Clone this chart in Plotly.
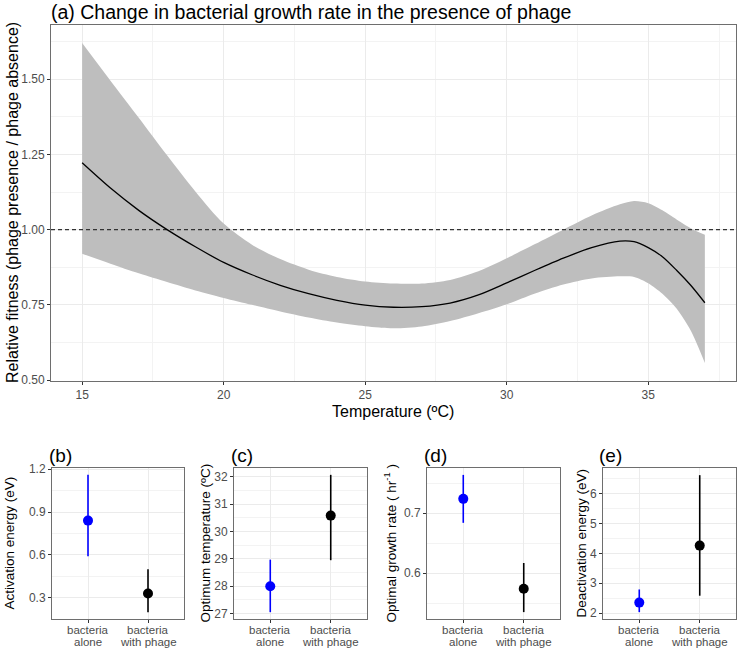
import plotly.graph_objects as go

# ---- data: panel (a) ----
temperature = [15, 16, 17, 18, 19, 20, 21, 22, 23, 24, 25, 26, 27, 28, 29, 30, 31, 32, 33, 34, 34.5, 35, 35.5, 36, 36.5, 37]
fit = [1.222, 1.138, 1.064, 1.000, 0.943, 0.891, 0.850, 0.815, 0.787, 0.765, 0.749, 0.742, 0.744, 0.756, 0.783, 0.823, 0.865, 0.905, 0.940, 0.962, 0.960, 0.940, 0.910, 0.865, 0.815, 0.757]
upper = [1.620, 1.495, 1.372, 1.247, 1.127, 1.020, 0.950, 0.902, 0.867, 0.843, 0.828, 0.821, 0.821, 0.833, 0.862, 0.905, 0.952, 1.000, 1.047, 1.084, 1.095, 1.088, 1.064, 1.034, 1.005, 0.983]
lower = [0.920, 0.887, 0.855, 0.826, 0.798, 0.773, 0.750, 0.728, 0.708, 0.691, 0.679, 0.672, 0.678, 0.696, 0.722, 0.752, 0.788, 0.818, 0.838, 0.845, 0.843, 0.822, 0.787, 0.738, 0.665, 0.557]
reference_line = 1.0

# ---- data: panels (b)-(e) ----
groups = [["bacteria", "alone"], ["bacteria", "with phage"]]
group_colors = ["#0000FF", "#000000"]
activation_est = [0.84, 0.33]
activation_lo = [0.59, 0.20]
activation_hi = [1.16, 0.50]
topt_est = [28.0, 30.58]
topt_lo = [27.05, 28.95]
topt_hi = [28.97, 32.07]
rmax_est = [0.724, 0.574]
rmax_lo = [0.684, 0.535]
rmax_hi = [0.764, 0.617]
deact_est = [2.35, 4.26]
deact_lo = [2.03, 2.58]
deact_hi = [2.79, 6.62]

W, H = 737, 649
def px_x(p):
    return p / W
def px_y(p):
    return 1 - p / H

FONT = "Liberation Sans, Arial, sans-serif"
TICKC = "#4D4D4D"
BORDER = "#6E6E6E"
GRID = "#EBEBEB"
MINOR = "#F3F3F3"

fig = go.Figure()

# ribbon
fig.add_trace(go.Scatter(x=temperature, y=lower, mode="lines", line=dict(width=0, shape="spline", smoothing=0.8),
                         showlegend=False, hoverinfo="skip", xaxis="x", yaxis="y"))
fig.add_trace(go.Scatter(x=temperature, y=upper, mode="lines", line=dict(width=0, shape="spline", smoothing=0.8),
                         fill="tonexty", fillcolor="#BEBEBE", showlegend=False, hoverinfo="skip", xaxis="x", yaxis="y"))
# dashed reference line
fig.add_trace(go.Scatter(x=[13.9, 38.1], y=[reference_line, reference_line], mode="lines",
                         line=dict(color="#333333", width=1.2, dash="4px,3px"), showlegend=False, xaxis="x", yaxis="y"))
# fitted curve
fig.add_trace(go.Scatter(x=temperature, y=fit, mode="lines", line=dict(color="black", width=1.3, shape="spline", smoothing=0.8),
                         showlegend=False, xaxis="x", yaxis="y"))

panels = [
    ("x2", "y2", activation_est, activation_lo, activation_hi),
    ("x3", "y3", topt_est, topt_lo, topt_hi),
    ("x4", "y4", rmax_est, rmax_lo, rmax_hi),
    ("x5", "y5", deact_est, deact_lo, deact_hi),
]
for xa, ya, est, lo, hi in panels:
    for i in range(2):
        fig.add_trace(go.Scatter(
            x=[i + 1], y=[est[i]], mode="markers",
            marker=dict(color=group_colors[i], size=10),
            error_y=dict(type="data", symmetric=False, array=[hi[i] - est[i]], arrayminus=[est[i] - lo[i]],
                         width=0, thickness=1.6, color=group_colors[i]),
            showlegend=False, xaxis=xa, yaxis=ya))

common = dict(showline=True, mirror=True, linecolor=BORDER, linewidth=1, ticks="outside", ticklen=3,
              tickcolor="#333333", tickwidth=1, showgrid=True, gridcolor=GRID, gridwidth=1, zeroline=False,
              automargin=False, tickfont=dict(family=FONT, size=12, color=TICKC))

layout = dict(width=W, height=H, margin=dict(l=0, r=0, t=0, b=0), plot_bgcolor="white", paper_bgcolor="white",
              font=dict(family=FONT))

layout["xaxis"] = dict(common, domain=[px_x(51), px_x(736)], range=[13.9, 38.1], tickvals=[15, 20, 25, 30, 35],
                       minor=dict(showgrid=True, gridcolor=MINOR, gridwidth=0.7, tickvals=[17.5, 22.5, 27.5, 32.5, 37.5]),
                       anchor="y")
layout["yaxis"] = dict(common, domain=[px_y(381), px_y(25)], range=[0.497, 1.68],
                       tickvals=[0.5, 0.75, 1.0, 1.25, 1.5], ticktext=["0.50", "0.75", "1.00", "1.25", "1.50"],
                       minor=dict(showgrid=True, gridcolor=MINOR, gridwidth=0.7, tickvals=[0.625, 0.875, 1.125, 1.375, 1.625]),
                       anchor="x")

bx = [(52, 184), (234, 367), (427, 560), (603, 736)]
yspecs = [
    dict(range=[0.152, 1.208], tickvals=[0.3, 0.6, 0.9, 1.2], minorv=[0.15, 0.45, 0.75, 1.05]),
    dict(range=[26.8, 32.32], tickvals=[27, 28, 29, 30, 31, 32], minorv=[27.5, 28.5, 29.5, 30.5, 31.5]),
    dict(range=[0.5235, 0.7755], tickvals=[0.6, 0.7], minorv=[0.55, 0.65, 0.75]),
    dict(range=[1.80, 6.86], tickvals=[2, 3, 4, 5, 6], minorv=[2.5, 3.5, 4.5, 5.5, 6.5]),
]
for k in range(4):
    n = k + 2
    layout[f"xaxis{n}"] = dict(common, domain=[px_x(bx[k][0]), px_x(bx[k][1])], range=[0.4, 2.6],
                               tickvals=[1, 2], showticklabels=False, anchor=f"y{n}")
    layout[f"yaxis{n}"] = dict(common, domain=[px_y(619), px_y(468)], range=yspecs[k]["range"],
                               tickvals=yspecs[k]["tickvals"],
                               minor=dict(showgrid=True, gridcolor=MINOR, gridwidth=0.7, tickvals=yspecs[k]["minorv"]),
                               anchor=f"x{n}")

fig.update_layout(**layout)

ann = []
def add_text(text, x, y, size=15, angle=0, xanchor="center", yanchor="middle", color="black", xref="paper"):
    ann.append(dict(text=text, x=(x if xref != "paper" else px_x(x)), y=px_y(y), xref=xref, yref="paper",
                    showarrow=False, textangle=angle, xanchor=xanchor, yanchor=yanchor,
                    font=dict(family=FONT, size=size, color=color)))

add_text("(a) Change in bacterial growth rate in the presence of phage", 49, 12, size=19.5, xanchor="left")
add_text("Relative fitness (phage presence / phage absence)", 12, 203, size=16, angle=-90)
add_text("Temperature (ºC)", 393.5, 412, size=16)
add_text("(b)", 47, 455, size=19, xanchor="left")
add_text("(c)", 229, 455, size=19, xanchor="left")
add_text("(d)", 422, 455, size=19, xanchor="left")
add_text("(e)", 597, 455, size=19, xanchor="left")
add_text("Activation energy (eV)", 9, 543.5, size=13.5, angle=-90)
add_text("Optimum temperature (ºC)", 205, 543.5, size=13.5, angle=-90)
add_text("Optimal growth rate ( hr<sup>-1</sup> )", 390, 543.5, size=13.5, angle=-90)
add_text("Deactivation energy (eV)", 581, 543.5, size=13.5, angle=-90)
for k in range(4):
    for i in range(2):
        add_text(groups[i][0], i + 1, 630, size=11.5, color=TICKC, xref=f"x{k + 2}")
        add_text(groups[i][1], i + 1, 642, size=11.5, color=TICKC, xref=f"x{k + 2}")
fig.update_layout(annotations=ann)

fig.write_html("out.html", config={"displayModeBar": False},
               post_script="document.body.style.margin='0';document.body.style.overflow='hidden';")
